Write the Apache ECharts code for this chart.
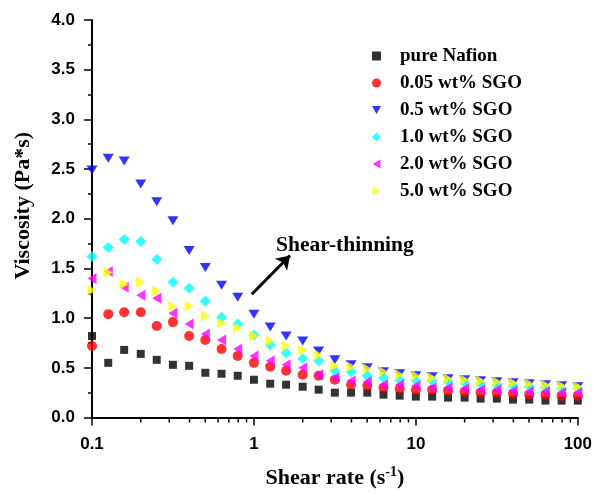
<!DOCTYPE html>
<html>
<head>
<meta charset="utf-8">
<script src="https://cdn.jsdelivr.net/npm/echarts@6/dist/echarts.min.js"></script>
<style>
  html, body { margin: 0; padding: 0; background: #fff; }
  #chart { width: 595px; height: 494px; }
</style>
</head>
<body>
<div id="chart"></div>
<script>
// shear rate points (s^-1), 10 per decade
var shearRate = [0.1, 0.126, 0.158, 0.2, 0.251, 0.316, 0.398, 0.501, 0.631, 0.794,
  1, 1.26, 1.58, 2, 2.51, 3.16, 3.98, 5.01, 6.31, 7.94,
  10, 12.6, 15.8, 20, 25.1, 31.6, 39.8, 50.1, 63.1, 79.4, 100];

// viscosity (Pa*s)
var pureNafion = [0.82, 0.55, 0.68, 0.64, 0.58, 0.53, 0.52, 0.45, 0.44, 0.42,
  0.38, 0.34, 0.33, 0.31, 0.28, 0.25, 0.25, 0.25, 0.23, 0.22,
  0.21, 0.21, 0.20, 0.20, 0.19, 0.19, 0.18, 0.18, 0.17, 0.17, 0.17];
var sgo005 = [0.72, 1.04, 1.06, 1.06, 0.92, 0.96, 0.82, 0.78, 0.69, 0.62,
  0.55, 0.51, 0.47, 0.43, 0.42, 0.38, 0.33, 0.32, 0.30, 0.29,
  0.28, 0.28, 0.27, 0.26, 0.25, 0.25, 0.24, 0.23, 0.23, 0.22, 0.22];
var sgo05 = [2.49, 2.61, 2.58, 2.35, 2.17, 1.98, 1.68, 1.51, 1.33, 1.21,
  1.04, 0.91, 0.82, 0.77, 0.67, 0.58, 0.53, 0.50, 0.46, 0.44,
  0.42, 0.41, 0.39, 0.38, 0.37, 0.36, 0.35, 0.34, 0.33, 0.32, 0.31];
var sgo10 = [1.62, 1.71, 1.79, 1.77, 1.59, 1.36, 1.30, 1.17, 1.01, 0.94,
  0.83, 0.73, 0.65, 0.59, 0.57, 0.47, 0.46, 0.42, 0.40, 0.38,
  0.37, 0.37, 0.36, 0.35, 0.34, 0.33, 0.32, 0.31, 0.30, 0.29, 0.29];
var sgo20 = [1.40, 1.47, 1.31, 1.23, 1.20, 1.05, 0.94, 0.84, 0.78, 0.69,
  0.62, 0.57, 0.53, 0.50, 0.43, 0.40, 0.37, 0.36, 0.33, 0.33,
  0.32, 0.30, 0.30, 0.29, 0.28, 0.28, 0.27, 0.26, 0.26, 0.25, 0.25];
var sgo50 = [1.28, 1.46, 1.34, 1.36, 1.27, 1.12, 1.12, 1.02, 0.95, 0.90,
  0.82, 0.77, 0.72, 0.68, 0.63, 0.52, 0.51, 0.49, 0.46, 0.43,
  0.42, 0.40, 0.39, 0.38, 0.37, 0.36, 0.35, 0.34, 0.33, 0.32, 0.31];

var seriesNames = ["pure Nafion", "0.05 wt% SGO", "0.5 wt% SGO", "1.0 wt% SGO", "2.0 wt% SGO", "5.0 wt% SGO"];
var seriesSymbols = ["rect", "circle", "triangle", "diamond", "triangle", "triangle"];
var seriesRotate = [0, 0, 180, 0, 90, -90];
var seriesColors = ["#000000", "#ff0000", "#0000ff", "#00ffff", "#ff00ff", "#ffff00"];
// legend does not rotate icons, so the pointed triangles are given as paths
var legendIcons = ["rect", "circle",
  "path://M0,0L10,0L5,8.7Z",
  "diamond",
  "path://M8.7,0L8.7,10L0,5Z",
  "path://M0,0L8.7,5L0,10Z"];

// minor ticks of the log axis
var xMinorTicks = [0.2, 0.3, 0.4, 0.5, 0.6, 0.7, 0.8, 0.9,
  2, 3, 4, 5, 6, 7, 8, 9,
  20, 30, 40, 50, 60, 70, 80, 90];

// arrow of the "Shear-thinning" note, data coords
var arrowFrom = [0.97, 1.24];
var arrowTo = [1.67, 1.63];

var serif = "'Liberation Serif', 'Times New Roman', serif";
var sans = "'Liberation Sans', Arial, sans-serif";

function pairs(ys) {
  return shearRate.map(function (x, i) {
    return [x, ys[i]];
  });
}

var allValues = [pureNafion, sgo005, sgo05, sgo10, sgo20, sgo50];
var markerSizes = [8, 10, [11, 9], 11, [11, 9], [11, 9]];

var scatterSeries = seriesNames.map(function (name, k) {
  return {
    name: name,
    type: "scatter",
    data: pairs(allValues[k]),
    symbol: seriesSymbols[k],
    symbolSize: markerSizes[k],
    symbolRotate: seriesRotate[k],
    itemStyle: { color: seriesColors[k] },
    z: 3,
  };
});

var legendData = seriesNames.map(function (name, k) {
  return { name: name, icon: legendIcons[k] };
});

var chart = echarts.init(document.getElementById("chart"));
chart.setOption({
  animation: false,
  backgroundColor: "#fff",
  grid: { left: 92, right: 13, top: 20, bottom: 72 },
  legend: {
    data: legendData,
    orient: "vertical",
    left: 367,
    top: 41,
    itemWidth: 9,
    itemHeight: 9,
    itemGap: 7,
    textStyle: {
      fontFamily: serif,
      fontWeight: "bold",
      fontSize: 19,
      lineHeight: 20,
      padding: [0, 0, 0, 14],
      color: "#000",
    },
  },
  xAxis: {
    type: "log",
    logBase: 10,
    min: 0.1,
    max: 100,
    name: "{t|Shear rate (s}{sup|-1}{t|)}",
    nameLocation: "middle",
    nameGap: 48,
    nameTextStyle: {
      rich: {
        t: { fontFamily: serif, fontWeight: "bold", fontSize: 22, lineHeight: 25, color: "#000" },
        sup: { fontFamily: serif, fontWeight: "bold", fontSize: 14, lineHeight: 12, verticalAlign: "top", color: "#000" },
      },
    },
    axisLine: { lineStyle: { color: "#000", width: 2 } },
    axisTick: { length: 8, lineStyle: { color: "#000", width: 1.5 } },
    splitLine: { show: false },
    axisLabel: {
      color: "#000",
      fontFamily: sans,
      fontWeight: "bold",
      fontSize: 17,
      margin: 18,
      formatter: function (v) {
        return v < 1 ? String(v) : String(Math.round(v));
      },
    },
  },
  yAxis: {
    type: "value",
    min: 0,
    max: 4,
    interval: 0.5,
    name: "Viscosity (Pa*s)",
    nameLocation: "middle",
    nameGap: 58,
    nameTextStyle: {
      fontFamily: serif,
      fontWeight: "bold",
      fontSize: 22,
      color: "#000",
      padding: [0, 0, 0, 26],
    },
    axisLine: { show: true, lineStyle: { color: "#000", width: 2 } },
    axisTick: { show: true, length: 8, lineStyle: { color: "#000", width: 1.5 } },
    minorTick: { show: true, splitNumber: 2, length: 4, lineStyle: { color: "#000", width: 1.5 } },
    splitLine: { show: false },
    axisLabel: {
      color: "#000",
      fontFamily: sans,
      fontWeight: "bold",
      fontSize: 17,
      margin: 17,
      formatter: function (v) {
        return v.toFixed(1);
      },
    },
  },
  graphic: [
    {
      type: "text",
      x: 276,
      y: 245,
      style: {
        text: "Shear-thinning",
        fontFamily: serif,
        fontWeight: "bold",
        fontSize: 21.5,
        fill: "#000",
        verticalAlign: "middle",
      },
    },
  ],
  series: scatterSeries.concat([
    {
      // minor ticks on the log axis
      type: "custom",
      silent: true,
      clip: false,
      data: xMinorTicks.map(function (v) { return [v, 0]; }),
      renderItem: function (params, api) {
        var p = api.coord([api.value(0), 0]);
        return {
          type: "line",
          shape: { x1: p[0], y1: p[1], x2: p[0], y2: p[1] + 5 },
          style: { stroke: "#000", lineWidth: 1.5 },
        };
      },
    },
    {
      // arrow for the annotation
      type: "scatter",
      data: [],
      silent: true,
      markLine: {
        silent: true,
        symbol: ["none", "arrow"],
        symbolSize: 13,
        label: { show: false },
        lineStyle: { color: "#000", width: 3, type: "solid" },
        data: [[{ coord: arrowFrom }, { coord: arrowTo }]],
      },
    },
  ]),
});
</script>
</body>
</html>
